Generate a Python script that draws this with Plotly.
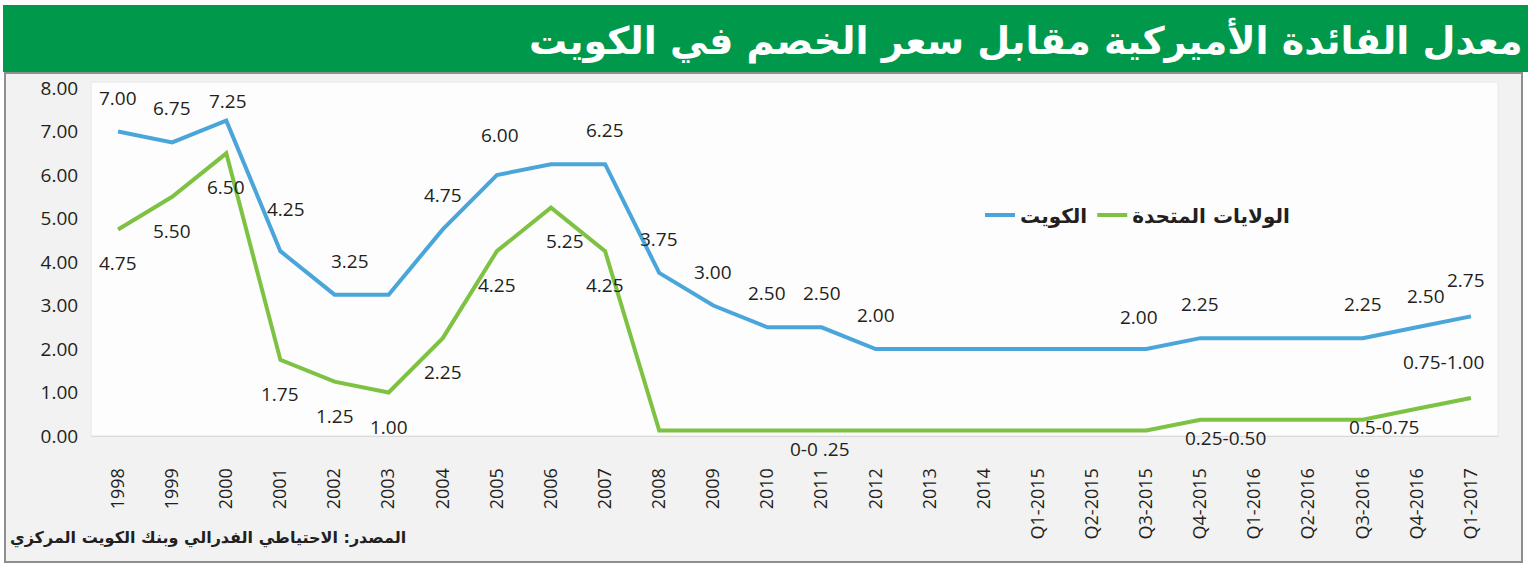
import plotly.graph_objects as go

# ---------------- data ----------------
categories = ["1998", "1999", "2000", "2001", "2002", "2003", "2004", "2005", "2006",
              "2007", "2008", "2009", "2010", "2011", "2012", "2013", "2014",
              "Q1-2015", "Q2-2015", "Q3-2015", "Q4-2015", "Q1-2016", "Q2-2016",
              "Q3-2016", "Q4-2016", "Q1-2017"]

kuwait_values = [7.00, 6.75, 7.25, 4.25, 3.25, 3.25, 4.75, 6.00, 6.25, 6.25, 3.75, 3.00,
                 2.50, 2.50, 2.00, 2.00, 2.00, 2.00, 2.00, 2.00, 2.25, 2.25, 2.25, 2.25,
                 2.50, 2.75]
kuwait_labels = ["7.00", "6.75", "7.25", "4.25", "3.25", "", "4.75", "6.00", "", "6.25",
                 "3.75", "3.00", "2.50", "2.50", "2.00", "", "", "", "", "2.00", "2.25",
                 "", "", "2.25", "2.50", "2.75"]

# US fed funds target range, plotted at the midpoint of the range
us_values = [4.75, 5.50, 6.50, 1.75, 1.25, 1.00, 2.25, 4.25, 5.25, 4.25, 0.125, 0.125,
             0.125, 0.125, 0.125, 0.125, 0.125, 0.125, 0.125, 0.125, 0.375, 0.375, 0.375,
             0.375, 0.625, 0.875]
us_labels = ["4.75", "5.50", "6.50", "1.75", "1.25", "1.00", "2.25", "4.25", "5.25", "4.25",
             "", "", "", "0-0 .25", "", "", "", "", "", "", "0.25-0.50", "", "", "",
             "0.5-0.75", "0.75-1.00"]

series_names = ["الكويت", "الولايات المتحدة"]
title_text = "معدل الفائدة الأميركية مقابل سعر الخصم في الكويت"
source_text = "المصدر: الاحتياطي الفدرالي وبنك الكويت المركزي"
y_ticks = [0, 1, 2, 3, 4, 5, 6, 7, 8]

# ---------------- styling / layout ----------------
W, H = 1528, 566
L, R, T, B = 91, 30, 82, 130
PW, PH = W - L - R, H - T - B

BLUE = "#4AA6DA"
GREEN = "#7DC242"
TXT = "#231F20"
NUM_FONT = "Open Sans"
AR_FONT = "DejaVu Sans"


def px_x(px):
    return (px - L) / PW


def px_y(py):
    return (H - B - py) / PH


fig = go.Figure()
fig.add_trace(go.Scatter(x=categories, y=kuwait_values, mode="lines", name=series_names[0],
                         line=dict(color=BLUE, width=4), hoverinfo="skip"))
fig.add_trace(go.Scatter(x=categories, y=us_values, mode="lines", name=series_names[1],
                         line=dict(color=GREEN, width=4), hoverinfo="skip"))

annotations = []
# default label offsets (pixels, +down) and a few individual adjustments
kw_default = (0, -34)
kw_adjust = {2: (2, -20), 3: (6, -42), 4: (15, -34), 7: (3, -40), 19: (-7, -32),
             24: (9, -31), 25: (-5, -36)}
us_default = (0, 34)
us_adjust = {8: (14, 33), 13: (-2, 18), 20: (25, 18), 24: (-33, 18), 25: (-27, -36)}

for i, (v, t) in enumerate(zip(kuwait_values, kuwait_labels)):
    if t:
        dx, dy = kw_adjust.get(i, kw_default)
        annotations.append(dict(x=i, y=v, xref="x", yref="y", text=t, showarrow=False,
                                xshift=dx, yshift=-dy,
                                font=dict(family=NUM_FONT, size=19, color=TXT)))
for i, (v, t) in enumerate(zip(us_values, us_labels)):
    if t:
        dx, dy = us_adjust.get(i, us_default)
        annotations.append(dict(x=i, y=v, xref="x", yref="y", text=t, showarrow=False,
                                xshift=dx, yshift=-dy,
                                font=dict(family=NUM_FONT, size=19, color=TXT)))

# title banner text
annotations.append(dict(x=px_x(1524), y=px_y(40), xref="paper", yref="paper",
                        xanchor="right", yanchor="middle", showarrow=False,
                        text="<b>" + title_text + "</b>",
                        font=dict(family=AR_FONT, size=38, color="white")))
# source
annotations.append(dict(x=px_x(8), y=px_y(538), xref="paper", yref="paper",
                        xanchor="left", yanchor="middle", showarrow=False,
                        text="<b>" + source_text + "</b>",
                        font=dict(family=AR_FONT, size=16, color=TXT)))

shapes = [
    # panel
    dict(type="rect", xref="paper", yref="paper", x0=px_x(5), x1=px_x(1522),
         y0=px_y(562), y1=px_y(73), fillcolor="#F2F2F2",
         line=dict(color="#8F8F8F", width=2), layer="below"),
    # plot area
    dict(type="rect", xref="paper", yref="paper", x0=0, x1=1, y0=0, y1=1,
         fillcolor="#FDFDFD", line=dict(color="#E6E6E6", width=1), layer="below"),
    # green title banner
    dict(type="rect", xref="paper", yref="paper", x0=px_x(3), x1=px_x(1530),
         y0=px_y(72), y1=px_y(5), fillcolor="#00994B", line=dict(width=0),
         layer="below"),
]

fig.update_layout(
    width=W, height=H,
    margin=dict(l=L, r=R, t=T, b=B, pad=0),
    paper_bgcolor="white",
    plot_bgcolor="rgba(0,0,0,0)",
    showlegend=True,
    legend=dict(orientation="h", x=px_x(980), y=px_y(215), xanchor="left",
                yanchor="middle", bgcolor="rgba(0,0,0,0)", traceorder="normal",
                font=dict(family=AR_FONT, size=20, color=TXT, weight="bold")),
    annotations=annotations,
    shapes=shapes,
    xaxis=dict(type="category", range=[-0.5, len(categories) - 0.5],
               showgrid=False, zeroline=False, showline=True, linecolor="#DADADA",
               linewidth=1, tickangle=-90, ticks="outside", ticklen=24,
               tickcolor="rgba(0,0,0,0)",
               tickfont=dict(family=NUM_FONT, size=18, color=TXT)),
    yaxis=dict(range=[0, 8.14], tickvals=y_ticks, tickformat=".2f",
               showgrid=False, zeroline=False, showline=False,
               ticks="outside", ticklen=8, tickcolor="rgba(0,0,0,0)",
               tickfont=dict(family=NUM_FONT, size=19, color=TXT)),
)

fig.write_html("out.html", config={"displayModeBar": False},
               post_script="document.body.style.margin='0';")
